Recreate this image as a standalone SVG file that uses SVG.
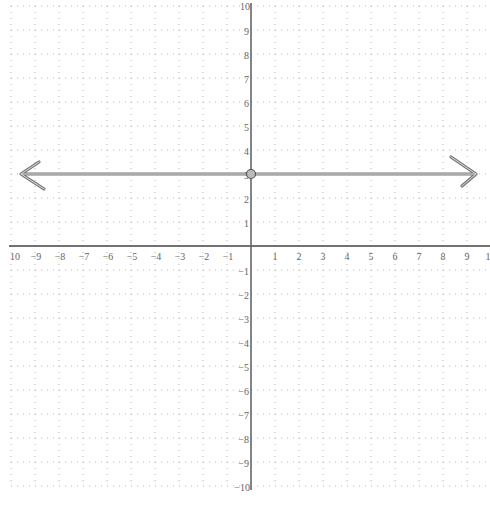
<svg xmlns="http://www.w3.org/2000/svg" width="490" height="505" viewBox="0 0 490 505">
<style>
.grid line{stroke:#b4b4b4;stroke-width:1;stroke-dasharray:1 5}
.axis{stroke:#444;stroke-width:1.6}
.lbl{font-family:"Liberation Serif",serif;font-size:10px;fill:#666}
.xl{text-anchor:middle}
.yl{text-anchor:end}
.outer{fill:none;stroke:#777;stroke-width:3.2;stroke-linecap:round;stroke-linejoin:round}
.inner{fill:none;stroke:#dcdcdc;stroke-width:1;stroke-linecap:round;stroke-linejoin:round}
</style>
<rect width="490" height="505" fill="#fff"/>
<g id="grid" class="grid">
<line x1="11" y1="6" x2="11" y2="486"/><line x1="35" y1="6" x2="35" y2="486"/><line x1="59" y1="6" x2="59" y2="486"/><line x1="83" y1="6" x2="83" y2="486"/><line x1="107" y1="6" x2="107" y2="486"/><line x1="131" y1="6" x2="131" y2="486"/><line x1="155" y1="6" x2="155" y2="486"/><line x1="179" y1="6" x2="179" y2="486"/><line x1="203" y1="6" x2="203" y2="486"/><line x1="227" y1="6" x2="227" y2="486"/><line x1="275" y1="6" x2="275" y2="486"/><line x1="299" y1="6" x2="299" y2="486"/><line x1="323" y1="6" x2="323" y2="486"/><line x1="347" y1="6" x2="347" y2="486"/><line x1="371" y1="6" x2="371" y2="486"/><line x1="395" y1="6" x2="395" y2="486"/><line x1="419" y1="6" x2="419" y2="486"/><line x1="443" y1="6" x2="443" y2="486"/><line x1="467" y1="6" x2="467" y2="486"/>
<line x1="11" y1="6" x2="490" y2="6"/><line x1="11" y1="30" x2="490" y2="30"/><line x1="11" y1="54" x2="490" y2="54"/><line x1="11" y1="78" x2="490" y2="78"/><line x1="11" y1="102" x2="490" y2="102"/><line x1="11" y1="126" x2="490" y2="126"/><line x1="11" y1="150" x2="490" y2="150"/><line x1="11" y1="174" x2="490" y2="174"/><line x1="11" y1="198" x2="490" y2="198"/><line x1="11" y1="222" x2="490" y2="222"/><line x1="11" y1="270" x2="490" y2="270"/><line x1="11" y1="294" x2="490" y2="294"/><line x1="11" y1="318" x2="490" y2="318"/><line x1="11" y1="342" x2="490" y2="342"/><line x1="11" y1="366" x2="490" y2="366"/><line x1="11" y1="390" x2="490" y2="390"/><line x1="11" y1="414" x2="490" y2="414"/><line x1="11" y1="438" x2="490" y2="438"/><line x1="11" y1="462" x2="490" y2="462"/><line x1="11" y1="486" x2="490" y2="486"/>
</g>
<g id="axes">
<line class="axis" x1="9" y1="246" x2="490" y2="246"/>
<line class="axis" x1="251" y1="3" x2="251" y2="490" style="stroke:#666"/>
</g>
<g id="x-labels" class="lbl xl">
<text x="15" y="260">10</text><text x="36" y="260">−9</text><text x="60" y="260">−8</text><text x="84" y="260">−7</text><text x="108" y="260">−6</text><text x="132" y="260">−5</text><text x="156" y="260">−4</text><text x="180" y="260">−3</text><text x="204" y="260">−2</text><text x="228" y="260">−1</text>
<text x="275" y="260">1</text><text x="299" y="260">2</text><text x="323" y="260">3</text><text x="347" y="260">4</text><text x="371" y="260">5</text><text x="395" y="260">6</text><text x="419" y="260">7</text><text x="443" y="260">8</text><text x="467" y="260">9</text><text x="488" y="260">1</text>
</g>
<g id="y-labels" class="lbl yl">
<text x="250" y="10">10</text><text x="249" y="35">9</text><text x="249" y="59">8</text><text x="249" y="83">7</text><text x="249" y="107">6</text><text x="249" y="131">5</text><text x="249" y="155">4</text><text x="249" y="179">3</text><text x="249" y="203">2</text><text x="249" y="227">1</text>
<text x="249" y="275">−1</text><text x="249" y="299">−2</text><text x="249" y="323">−3</text><text x="249" y="347">−4</text><text x="249" y="371">−5</text><text x="249" y="395">−6</text><text x="249" y="419">−7</text><text x="249" y="443">−8</text><text x="249" y="467">−9</text><text x="250" y="491">−10</text>
</g>
<g id="connectors">
<path class="outer" d="M21 174 H476 M39 162 L21 174 L44 189 M451 157 L476 174 L462 186"/>
<path class="inner" d="M21 174 H476 M39 162 L21 174 L44 189 M451 157 L476 174 L462 186"/>
</g>
<g id="point">
<circle cx="251" cy="174" r="4.5" fill="#bbb" stroke="#555" stroke-width="1.2"/>
</g>
</svg>
